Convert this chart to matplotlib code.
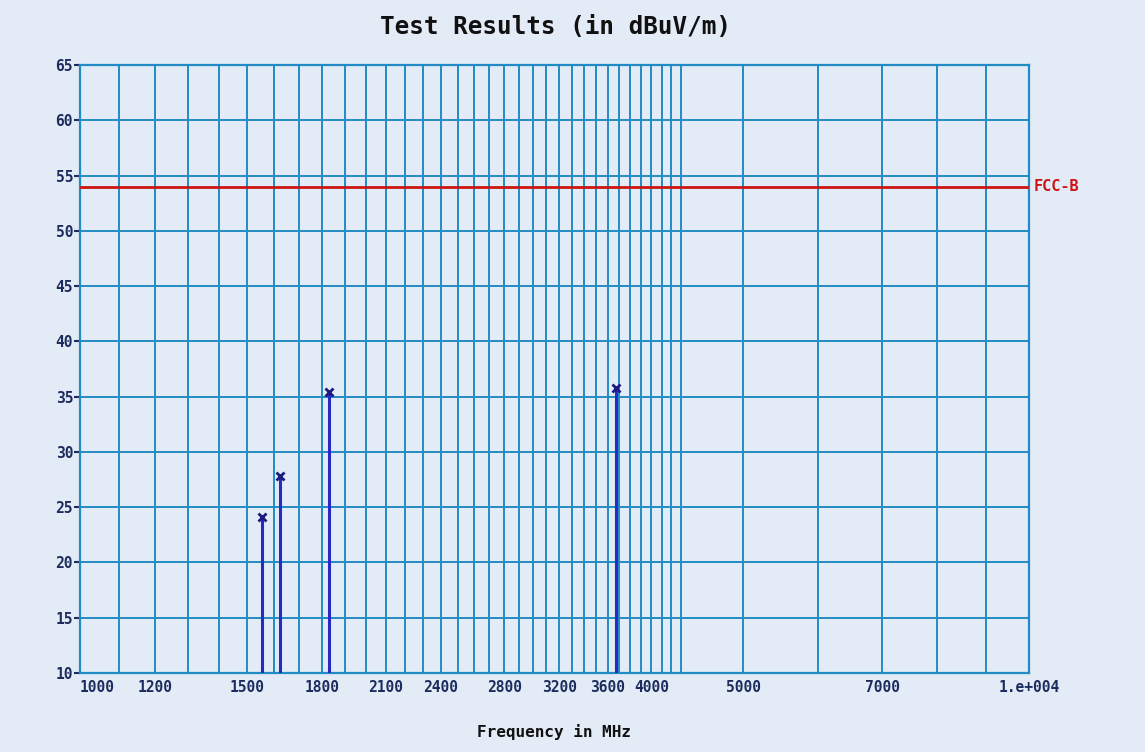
import numpy as np
import matplotlib.pyplot as plt
from matplotlib.ticker import FixedLocator, NullLocator

freqs_mhz = [1555, 1624, 1830, 3670]
levels_dbuv = [24.1, 27.8, 35.4, 35.8]

limit_name = "FCC-B"
limit_level = 54

x_tick_values = [1000, 1200, 1500, 1800, 2100, 2400, 2800, 3200, 3600, 4000, 5000, 7000, 10000]
x_tick_labels = ["1000", "1200", "1500", "1800", "2100", "2400", "2800", "3200",
                 "3600", "4000", "5000", "7000", "1.e+004"]
y_ticks = list(range(10, 66, 5))

paper = "#e3ebf6"
grid_blue = "#1f8cc4"
ink = "#1c2c5e"
stem_blue = "#2828c4"
red = "#cc1414"
mono = "DejaVu Sans Mono"

fig = plt.figure(figsize=(11.45, 7.52), dpi=100, facecolor=paper)
ax = fig.add_axes([0.0699, 0.105, 0.8288, 0.8086])
ax.set_facecolor(paper)
ax.set_xscale("log")
ax.set_xlim(1000, 10000)
ax.set_ylim(10, 65)

# plotter style grid: every 100 MHz up to 4300, then every 1000 MHz
grid_x = list(range(1000, 4400, 100)) + list(range(5000, 10001, 1000))
for gx in grid_x:
    ax.axvline(gx, color=grid_blue, lw=1.4, zorder=1)
for gy in y_ticks:
    ax.axhline(gy, color=grid_blue, lw=1.4, zorder=1)

for s in ax.spines.values():
    s.set_color(grid_blue)
    s.set_linewidth(1.6)

ax.axhline(limit_level, color=red, lw=2.0, zorder=3)
ax.annotate(limit_name, xy=(10000, limit_level), xytext=(3, 0), textcoords="offset points",
            color=red, fontsize=11, fontweight="bold", family=mono, va="center", ha="left",
            annotation_clip=False)

ax.vlines(freqs_mhz, 10, levels_dbuv, color=stem_blue, lw=2.2, zorder=4)
ax.plot(freqs_mhz, levels_dbuv, "x", color="#1a1a80", ms=6, mew=2, zorder=5)

ax.xaxis.set_major_locator(FixedLocator(x_tick_values))
ax.xaxis.set_minor_locator(NullLocator())
ax.set_xticklabels(x_tick_labels)
ax.tick_params(axis="x", length=0, pad=5, labelsize=10.5, labelcolor=ink)
ax.get_xticklabels()[0].set_horizontalalignment("left")

ax.set_yticks(y_ticks)
ax.tick_params(axis="y", length=4, width=1.5, color=ink, pad=1, labelsize=10.5, labelcolor=ink)

for lab in ax.get_xticklabels() + ax.get_yticklabels():
    lab.set_fontfamily(mono)
    lab.set_fontweight("bold")

fig.text(0.485, 0.964, "Test Results (in dBuV/m)", ha="center", va="center",
         fontsize=17.5, fontweight="bold", family=mono, color="#111111")
fig.text(0.484, 0.027, "Frequency in MHz", ha="center", va="center",
         fontsize=11.5, fontweight="bold", family=mono, color="#111111")

fig.savefig("out.png", dpi=100, facecolor=paper)
